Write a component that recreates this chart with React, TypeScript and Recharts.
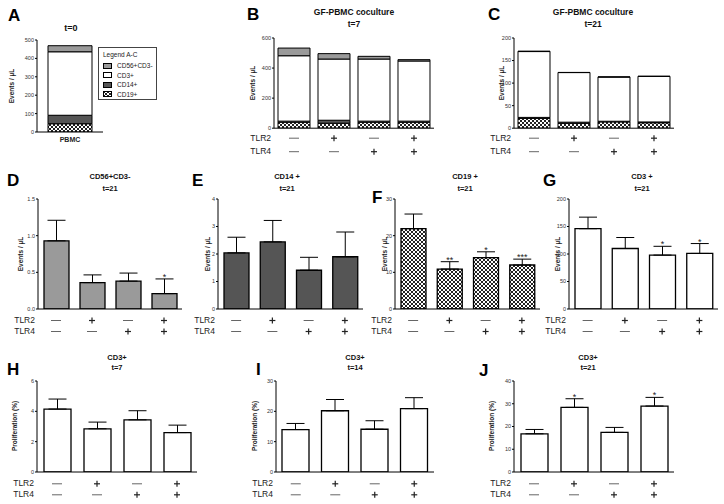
import React from "react";
import { BarChart, Bar, XAxis, YAxis, ErrorBar, LabelList } from "recharts";

// conditions shared by panels B-J
const conditions = ["Ctrl", "TLR2", "TLR4", "TLR2+TLR4"];
const tlr2Signs = ["—", "+", "—", "+"];
const tlr4Signs = ["—", "—", "+", "+"];

// A: PBMC t=0 (events / µL)
const pbmcCD19 = 45;
const pbmcCD14 = 46;
const pbmcCD3 = 345;
const pbmcCD56 = 33;

// B: coculture t=7
const t7CD19 = [40, 33, 40, 40];
const t7CD14 = [7, 20, 7, 7];
const t7CD3 = [435, 407, 413, 400];
const t7CD56 = [51, 36, 18, 9];

// D-G: t=21 subsets
const cd56Mean = [0.93, 0.36, 0.38, 0.21];
const cd56Err = [0.28, 0.105, 0.11, 0.2];
const cd56Stars = ["", "", "", "*"];

const cd14Mean = [2.04, 2.44, 1.41, 1.9];
const cd14Err = [0.57, 0.78, 0.47, 0.9];
const cd14Stars = ["", "", "", ""];

const cd19Mean = [21.9, 10.9, 14, 12];
const cd19Err = [4, 2, 1.6, 1.6];
const cd19Stars = ["", "**", "*", "***"];

const cd3Mean = [146, 110, 98, 101];
const cd3Err = [21, 20, 16, 18];
const cd3Stars = ["", "", "*", "*"];

// H-J: CD3+ proliferation (%)
const prolif7 = [4.15, 2.85, 3.44, 2.6];
const prolif7Err = [0.66, 0.44, 0.6, 0.49];
const prolif14 = [14, 20.2, 14.1, 20.9];
const prolif14Err = [2, 3.7, 2.8, 3.6];
const prolif21 = [16.8, 28.4, 17.4, 29];
const prolif21Err = [1.9, 3.8, 2.2, 3.8];
const prolif21Stars = ["", "*", "", "*"];

const FONT = "'Liberation Sans', Arial, sans-serif";
const ML = 40;
const MR = 4;
const MT = 12;
const XH = 32;

const CD56_FILL = "#9a9a9a";
const CD14_FILL = "#555555";
const CD3_FILL = "#ffffff";
const CD19_FILL = "url(#checker)";

function simpleRows(mean: number[], err: number[], stars: string[]) {
  return conditions.map((c, i) => ({
    name: c,
    value: mean[i],
    err: [0, err[i]],
    errVal: err[i],
    star: stars[i],
  }));
}

// C is the sum of the t=21 subsets
const t21Stack = conditions.map((c, i) => ({
  name: c,
  cd19: cd19Mean[i],
  cd14: cd14Mean[i],
  cd3: cd3Mean[i],
  cd56: cd56Mean[i],
}));

const t7Stack = conditions.map((c, i) => ({
  name: c,
  cd19: t7CD19[i],
  cd14: t7CD14[i],
  cd3: t7CD3[i],
  cd56: t7CD56[i],
}));

const t0Stack = [{ name: "PBMC", cd19: pbmcCD19, cd14: pbmcCD14, cd3: pbmcCD3, cd56: pbmcCD56 }];

function makeTlrTick(r1: number, r2: number) {
  return (props: any) => {
    const { x, y, payload } = props;
    const index = props.index ?? conditions.indexOf(payload.value);
    const signs = [tlr2Signs[index], tlr4Signs[index]];
    const offs = [r1, r2];
    return (
      <g>
        {index === 0 && (
          <>
            <text x={ML - 3} y={y + r1} textAnchor="end" dominantBaseline="central" fontSize={8.5} fill="#222" fontFamily={FONT}>
              TLR2
            </text>
            <text x={ML - 3} y={y + r2} textAnchor="end" dominantBaseline="central" fontSize={8.5} fill="#222" fontFamily={FONT}>
              TLR4
            </text>
          </>
        )}
        {signs.map((s, i) => {
          const cy = y + offs[i] + 0.5;
          return s === "+" ? (
            <g key={i} stroke="#222" strokeWidth={1.2}>
              <line x1={x - 3} x2={x + 3} y1={cy} y2={cy} />
              <line x1={x} x2={x} y1={cy - 3} y2={cy + 3} />
            </g>
          ) : (
            <line key={i} x1={x - 5} x2={x + 5} y1={cy} y2={cy} stroke="#666" strokeWidth={1} />
          );
        })}
      </g>
    );
  };
}

function pbmcTick(props: any) {
  const { x, y, payload } = props;
  return (
    <text x={x} y={y + 7} textAnchor="middle" dominantBaseline="central" fontSize={7} fontWeight="bold" fill="#222" fontFamily={FONT}>
      {payload.value}
    </text>
  );
}

type PanelProps = {
  data: any[];
  left: number;
  right: number;
  top: number;
  bottom: number;
  max: number;
  ticks: number[];
  fmt?: (v: number) => string;
  barSize: number;
  stacked?: boolean;
  fill?: string;
  tick: any;
};

function Panel(p: PanelProps) {
  const width = p.right - p.left + ML + MR;
  const height = MT + (p.bottom - p.top) + XH;
  return (
    <div style={{ position: "absolute", left: p.left - ML, top: p.top - MT }}>
      <BarChart width={width} height={height} data={p.data} margin={{ top: MT, right: MR, left: 0, bottom: 0 }} barSize={p.barSize}>
        <XAxis
          dataKey="name"
          height={XH}
          stroke="#000"
          tickLine={false}
          tickSize={0}
          tickMargin={0}
          interval={0}
          tick={p.tick}
        />
        <YAxis
          width={ML}
          domain={[0, p.max]}
          ticks={p.ticks}
          allowDataOverflow
          stroke="#000"
          tickSize={2}
          tickMargin={1}
          tickFormatter={p.fmt ?? ((v: number) => String(v))}
          tick={{ fontSize: 5.5, fill: "#333", fontFamily: FONT }}
        />
        {p.stacked ? (
          [
            <Bar key="cd19" dataKey="cd19" stackId="a" fill={CD19_FILL} stroke="#000" strokeWidth={1} isAnimationActive={false} />,
            <Bar key="cd14" dataKey="cd14" stackId="a" fill={CD14_FILL} stroke="#000" strokeWidth={1} isAnimationActive={false} />,
            <Bar key="cd3" dataKey="cd3" stackId="a" fill={CD3_FILL} stroke="#000" strokeWidth={1} isAnimationActive={false} />,
            <Bar key="cd56" dataKey="cd56" stackId="a" fill={CD56_FILL} stroke="#000" strokeWidth={1} isAnimationActive={false} />,
          ]
        ) : (
          <Bar dataKey="value" fill={p.fill} stroke="#000" strokeWidth={1.3} isAnimationActive={false}>
            <ErrorBar dataKey="err" direction="y" width={9} stroke="#000" strokeWidth={1} />
            <LabelList
              dataKey="value"
              content={(lp: any) => {
                const { x, y, width: w, height: h, index } = lp;
                const r = p.data[index];
                if (!r || !r.star) return null;
                const capY = y - r.errVal * (h / r.value);
                return (
                  <text x={x + w / 2} y={capY + 1} textAnchor="middle" fontSize={9} fill="#222" fontFamily={FONT}>
                    {r.star}
                  </text>
                );
              }}
            />
          </Bar>
        )}
      </BarChart>
    </div>
  );
}

function Txt({ x, y, size, bold, children }: { x: number; y: number; size: number; bold?: boolean; children: React.ReactNode }) {
  return (
    <div
      style={{
        position: "absolute",
        left: x,
        top: y,
        transform: "translate(-50%, -50%)",
        fontSize: size,
        fontWeight: bold ? "bold" : "normal",
        whiteSpace: "nowrap",
        color: "#111",
        lineHeight: 1,
      }}
    >
      {children}
    </div>
  );
}

function YLabel({ x, y, text }: { x: number; y: number; text: string }) {
  return (
    <div
      style={{
        position: "absolute",
        left: x,
        top: y,
        transform: "translate(-50%, -50%) rotate(-90deg)",
        fontSize: 6.5,
        fontWeight: "bold",
        whiteSpace: "nowrap",
        color: "#222",
        lineHeight: 1,
      }}
    >
      {text}
    </div>
  );
}

function Letter({ x, y, t }: { x: number; y: number; t: string }) {
  return (
    <div style={{ position: "absolute", left: x, top: y, fontSize: 17, fontWeight: "bold", lineHeight: 1, color: "#000" }}>{t}</div>
  );
}

function Swatch({ fill }: { fill: string }) {
  return (
    <svg width={9} height={6} style={{ display: "block" }}>
      <rect x={0.5} y={0.5} width={8} height={5} fill={fill} stroke="#000" strokeWidth={1} />
    </svg>
  );
}

const legendItems = [
  { label: "CD56+CD3-", fill: CD56_FILL },
  { label: "CD3+", fill: CD3_FILL },
  { label: "CD14+", fill: CD14_FILL },
  { label: "CD19+", fill: CD19_FILL },
];

export default function App() {
  const tickB = makeTlrTick(9.5, 23);
  const tickD = makeTlrTick(11, 22);
  const tickH = makeTlrTick(11.3, 22.3);
  return (
    <div style={{ position: "absolute", left: 0, top: 0, width: 724, height: 504, background: "#fff", fontFamily: FONT, overflow: "hidden" }}>
      <svg width={0} height={0} style={{ position: "absolute" }}>
        <defs>
          <pattern id="checker" width={4} height={4} patternUnits="userSpaceOnUse">
            <rect width={4} height={4} fill="#fff" />
            <rect width={2} height={2} fill="#222" />
            <rect x={2} y={2} width={2} height={2} fill="#222" />
          </pattern>
        </defs>
      </svg>

      {/* A */}
      <Letter x={8} y={7} t="A" />
      <Txt x={71} y={28} size={9} bold>t=0</Txt>
      <YLabel x={12} y={86} text="Events / µL" />
      <Panel data={t0Stack} left={37} right={103} top={40} bottom={132} max={500} ticks={[0, 100, 200, 300, 400, 500]} barSize={44} stacked tick={pbmcTick} />
      <div style={{ position: "absolute", left: 98, top: 47, width: 59, height: 53, border: "1px solid #444", fontSize: 6.5, color: "#222", boxSizing: "border-box", padding: "3px 0 0 4px" }}>
        <div style={{ marginBottom: 3 }}>Legend A-C</div>
        {legendItems.map((it) => (
          <div key={it.label} style={{ display: "flex", alignItems: "center", gap: 5, height: 9.5 }}>
            <Swatch fill={it.fill} />
            <span>{it.label}</span>
          </div>
        ))}
      </div>

      {/* B */}
      <Letter x={247} y={6} t="B" />
      <Txt x={354} y={12} size={8.5} bold>GF-PBMC coculture</Txt>
      <Txt x={354} y={24} size={8.5} bold>t=7</Txt>
      <YLabel x={253} y={83} text="Events / µL" />
      <Panel data={t7Stack} left={274.3} right={434.3} top={37.5} bottom={127.7} max={600} ticks={[0, 200, 400, 600]} barSize={32} stacked tick={tickB} />

      {/* C */}
      <Letter x={488} y={6} t="C" />
      <Txt x={593} y={12} size={8.5} bold>GF-PBMC coculture</Txt>
      <Txt x={593} y={24} size={8.5} bold>t=21</Txt>
      <YLabel x={502} y={83} text="Events / µL" />
      <Panel data={t21Stack} left={514} right={674} top={37.5} bottom={127.7} max={200} ticks={[0, 50, 100, 150, 200]} barSize={32} stacked tick={tickB} />

      {/* D */}
      <Letter x={7} y={172} t="D" />
      <Txt x={110} y={177} size={7.5} bold>CD56+CD3-</Txt>
      <Txt x={110} y={189} size={7.5} bold>t=21</Txt>
      <YLabel x={21} y={254} text="Events / µL" />
      <Panel data={simpleRows(cd56Mean, cd56Err, cd56Stars)} left={38} right={182} top={199} bottom={309} max={1.5} ticks={[0, 0.5, 1, 1.5]} fmt={(v) => v.toFixed(1)} barSize={25} fill={CD56_FILL} tick={tickD} />

      {/* E */}
      <Letter x={192} y={172} t="E" />
      <Txt x={287} y={177} size={7.5} bold>CD14 +</Txt>
      <Txt x={287} y={189} size={7.5} bold>t=21</Txt>
      <YLabel x={208} y={254} text="Events / µL" />
      <Panel data={simpleRows(cd14Mean, cd14Err, cd14Stars)} left={218} right={363} top={199} bottom={309} max={4} ticks={[0, 1, 2, 3, 4]} barSize={25} fill={CD14_FILL} tick={tickD} />

      {/* F */}
      <Letter x={372} y={189} t="F" />
      <Txt x={465} y={177} size={7.5} bold>CD19 +</Txt>
      <Txt x={465} y={189} size={7.5} bold>t=21</Txt>
      <YLabel x={385} y={254} text="Events / µL" />
      <Panel data={simpleRows(cd19Mean, cd19Err, cd19Stars)} left={395} right={540} top={199} bottom={309} max={30} ticks={[0, 10, 20, 30]} barSize={25} fill={CD19_FILL} tick={tickD} />

      {/* G */}
      <Letter x={543} y={172} t="G" />
      <Txt x={642} y={177} size={7.5} bold>CD3 +</Txt>
      <Txt x={642} y={189} size={7.5} bold>t=21</Txt>
      <YLabel x={558} y={254} text="Events / µL" />
      <Panel data={simpleRows(cd3Mean, cd3Err, cd3Stars)} left={569} right={718} top={199} bottom={309} max={200} ticks={[0, 50, 100, 150, 200]} barSize={26} fill={CD3_FILL} tick={tickD} />

      {/* H */}
      <Letter x={7} y={361} t="H" />
      <Txt x={117} y={358} size={7.5} bold>CD3+</Txt>
      <Txt x={117} y={368} size={7.5} bold>t=7</Txt>
      <YLabel x={15} y={426} text="Proliferation (%)" />
      <Panel data={simpleRows(prolif7, prolif7Err, ["", "", "", ""])} left={36.5} right={196.5} top={381} bottom={472} max={6} ticks={[0, 2, 4, 6]} barSize={27} fill={CD3_FILL} tick={tickH} />

      {/* I */}
      <Letter x={256} y={361} t="I" />
      <Txt x={355} y={358} size={7.5} bold>CD3+</Txt>
      <Txt x={355} y={368} size={7.5} bold>t=14</Txt>
      <YLabel x={255} y={426} text="Proliferation (%)" />
      <Panel data={simpleRows(prolif14, prolif14Err, ["", "", "", ""])} left={276} right={434} top={381} bottom={472} max={30} ticks={[0, 10, 20, 30]} barSize={27} fill={CD3_FILL} tick={tickH} />

      {/* J */}
      <Letter x={479} y={362} t="J" />
      <Txt x={588} y={358} size={7.5} bold>CD3+</Txt>
      <Txt x={588} y={368} size={7.5} bold>t=21</Txt>
      <YLabel x={492} y={426} text="Proliferation (%)" />
      <Panel data={simpleRows(prolif21, prolif21Err, prolif21Stars)} left={514} right={674} top={381} bottom={472} max={40} ticks={[0, 10, 20, 30, 40]} barSize={27} fill={CD3_FILL} tick={tickH} />
    </div>
  );
}
